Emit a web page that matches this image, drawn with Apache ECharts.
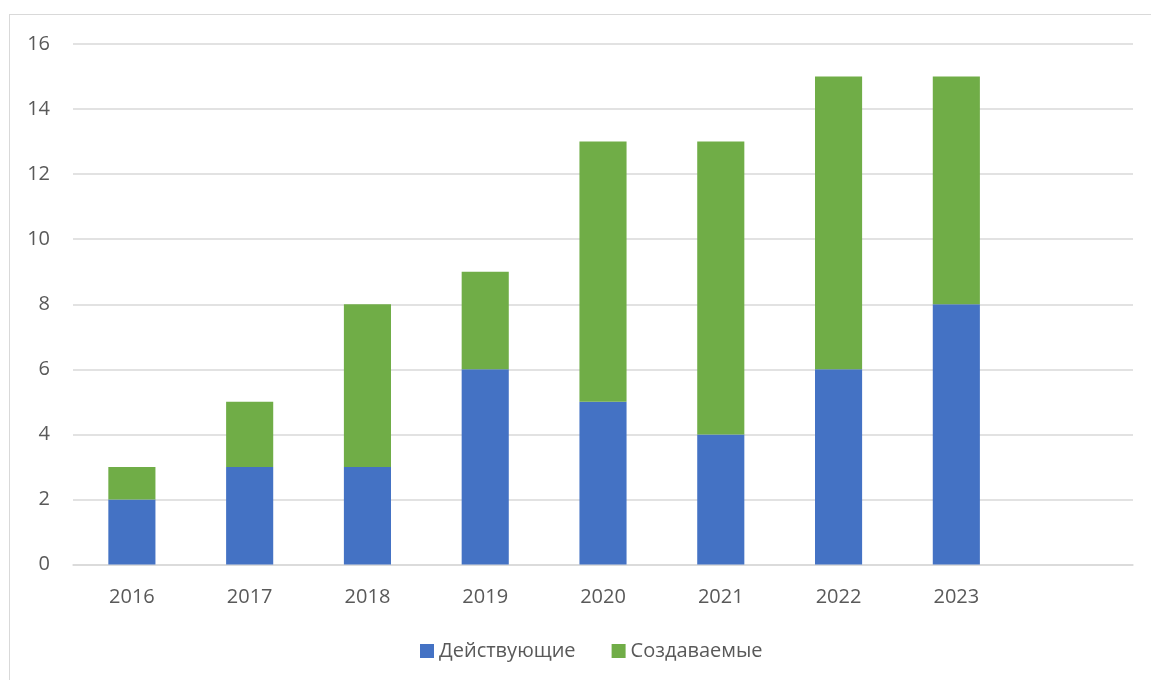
<!DOCTYPE html>
<html>
<head>
<meta charset="utf-8">
<script src="https://cdn.jsdelivr.net/npm/echarts@6/dist/echarts.min.js"></script>
<style>
html,body{margin:0;padding:0;background:#fff;overflow:hidden;}
#frame{position:absolute;left:9px;top:14px;width:1200px;height:720px;border:1.5px solid #d9d9d9;box-sizing:border-box;}
#chart{position:absolute;left:0;top:0;width:1151px;height:680px;}
</style>
</head>
<body>
<div id="frame"></div>
<div id="chart"></div>
<script>
const categories = ['2016','2017','2018','2019','2020','2021','2022','2023',''];
const active = [2,3,3,6,5,4,6,8];
const created = [1,2,5,3,8,9,9,7];
const seriesNames = ['Действующие','Создаваемые'];

const chart = echarts.init(document.getElementById('chart'));
const font = 'Open Sans';
chart.setOption({
  animation:false,
  textStyle:{fontFamily:font},
  grid:{left:73,right:18,top:44,bottom:115.5,containLabel:false},
  legend:{
    data:seriesNames,
    bottom:14,
    left:415,
    itemWidth:14,itemHeight:14,itemGap:36,
    icon:'rect',
    textStyle:{fontFamily:font,fontSize:20,color:'#595959'}
  },
  xAxis:{
    type:'category',
    data:categories,
    axisLine:{lineStyle:{color:'#d9d9d9',width:1.5}},
    axisTick:{show:false},
    axisLabel:{color:'#595959',fontSize:20,margin:23,fontFamily:font}
  },
  yAxis:{
    type:'value',min:0,max:16,interval:2,
    axisLine:{show:false},axisTick:{show:false},
    splitLine:{lineStyle:{color:'#d9d9d9',width:1.5}},
    axisLabel:{color:'#595959',fontSize:20,margin:23,fontFamily:font,padding:[6,0,0,0]}
  },
  series:[
    {name:seriesNames[0],type:'bar',stack:'s',data:active,barWidth:'40%',itemStyle:{color:'#4472C4'}},
    {name:seriesNames[1],type:'bar',stack:'s',data:created,barWidth:'40%',itemStyle:{color:'#70AD47'}}
  ]
});
</script>
</body>
</html>
